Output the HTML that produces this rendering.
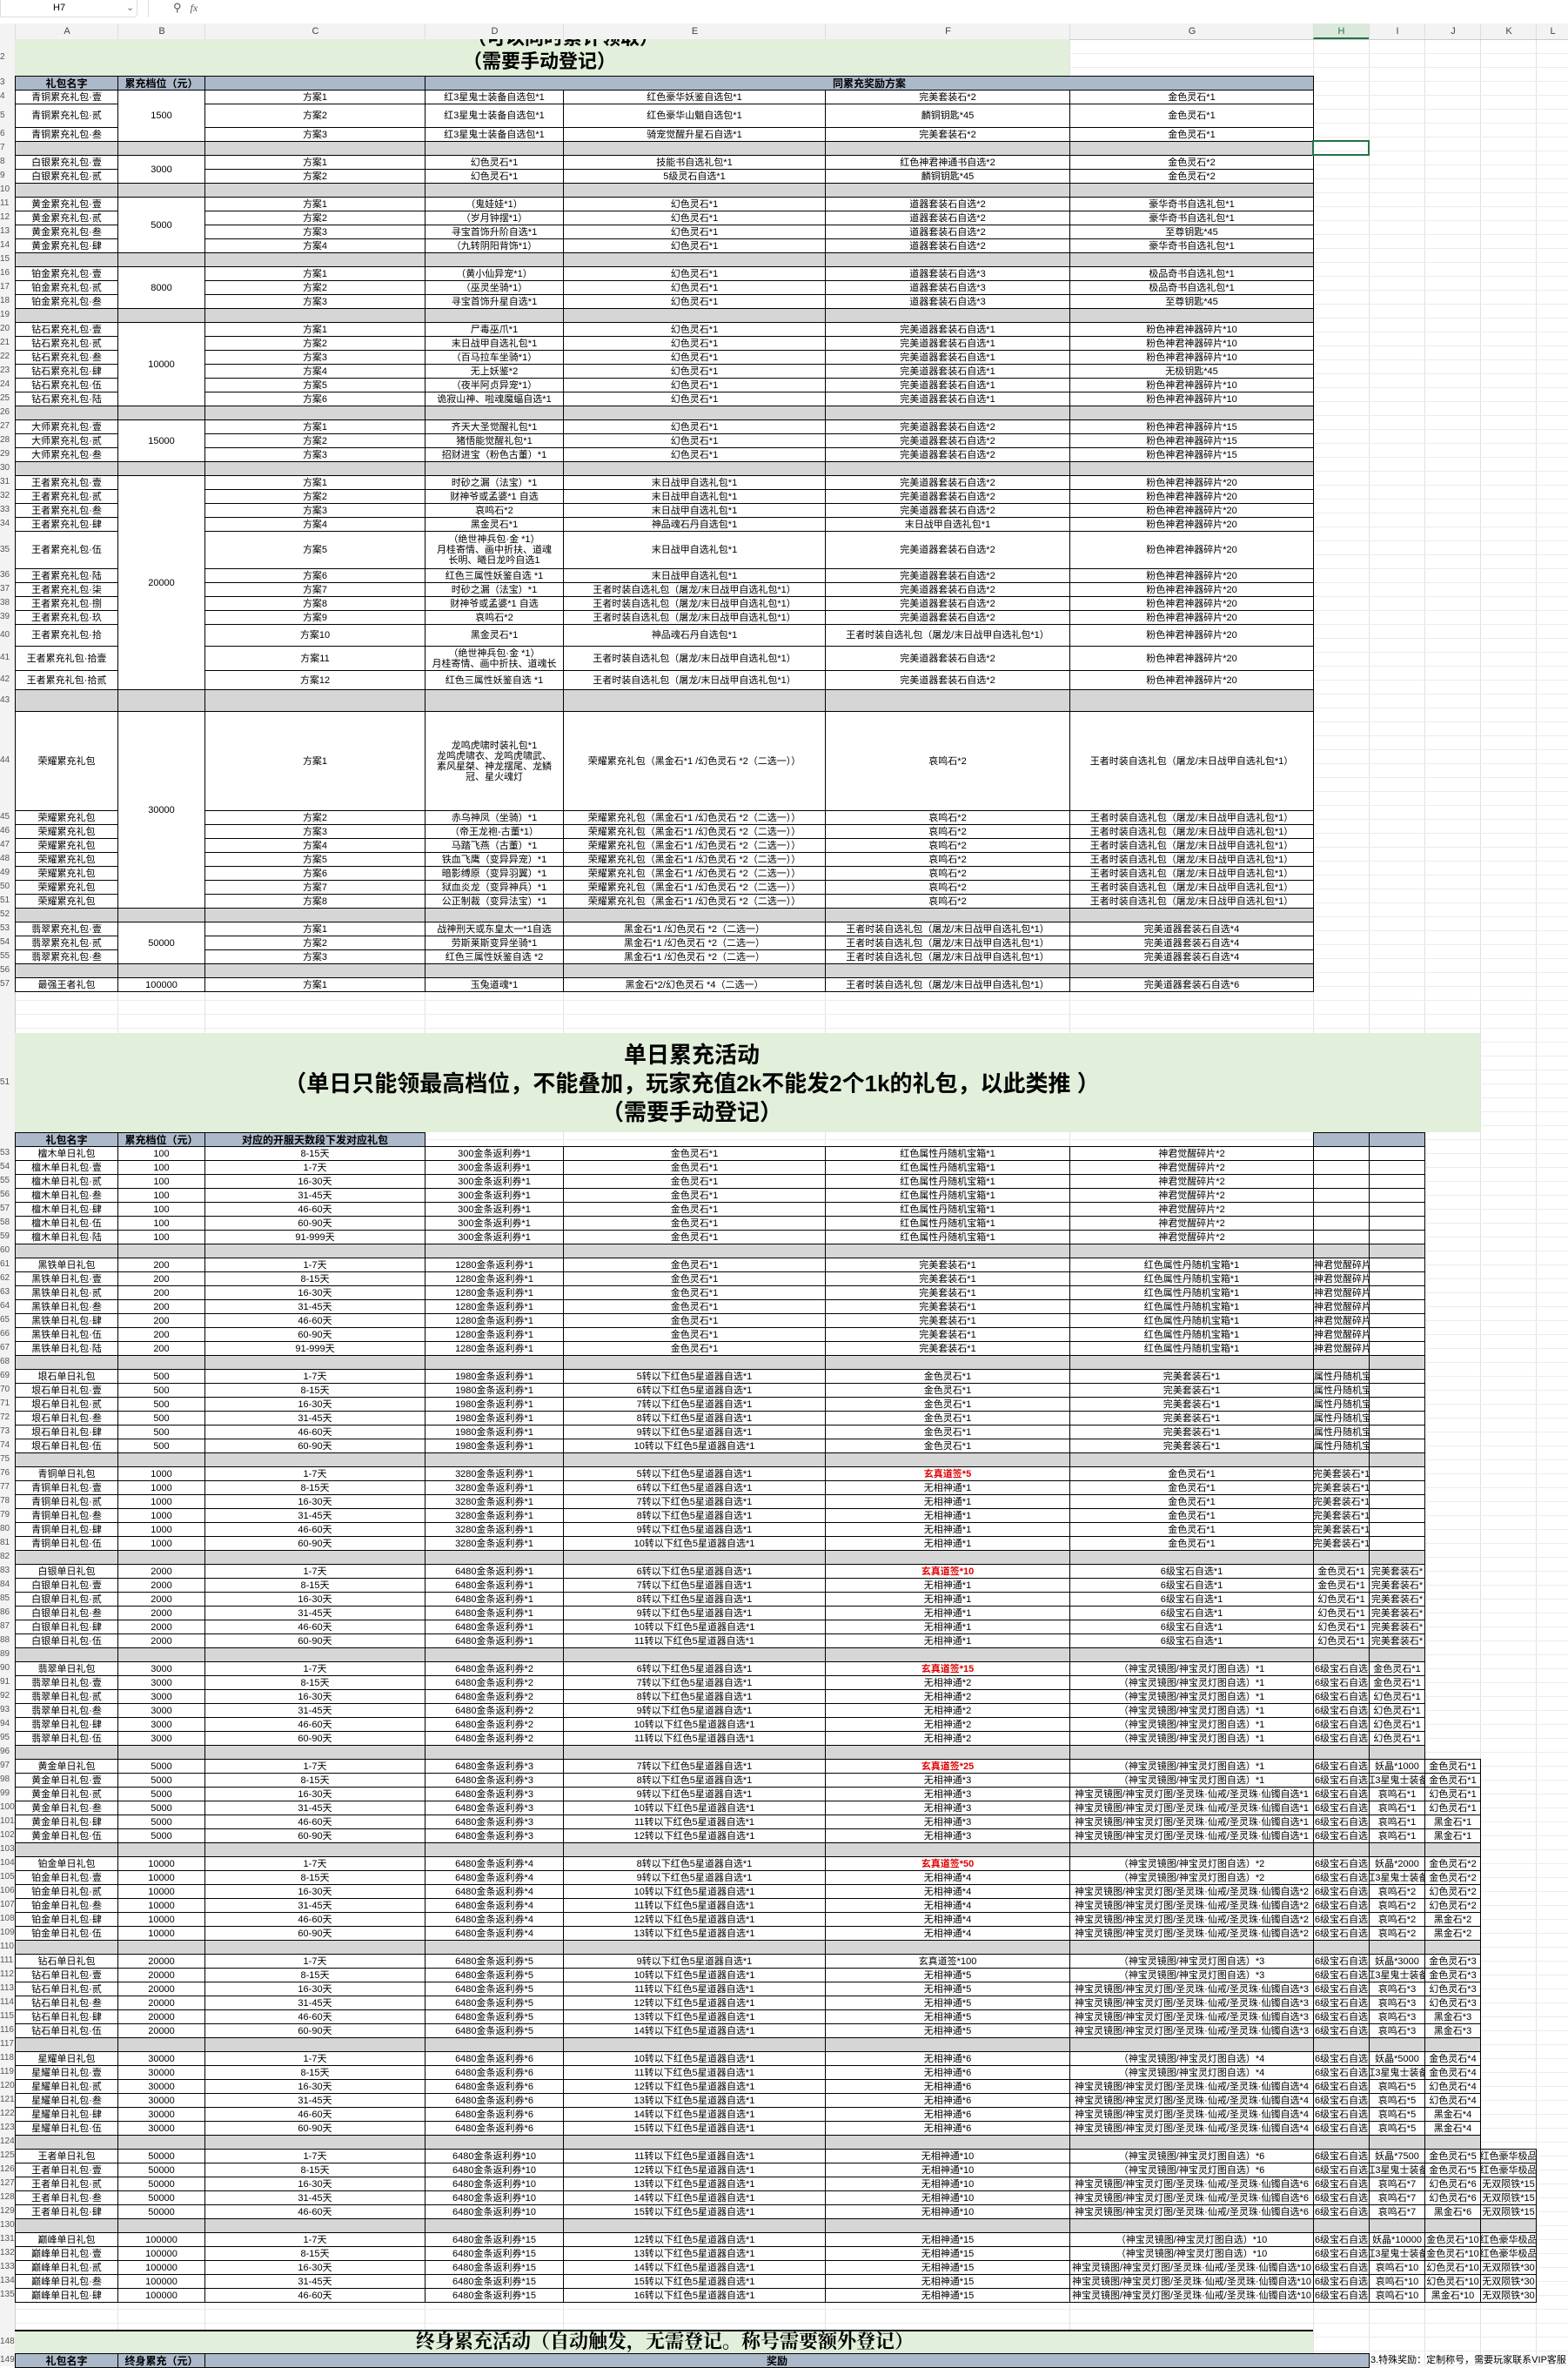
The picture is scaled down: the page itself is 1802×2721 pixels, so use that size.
<!DOCTYPE html>
<html><head><meta charset="utf-8">
<style>
html,body{margin:0;padding:0;background:#fff;}
body{width:1802px;height:2719px;position:relative;overflow:hidden;font-family:"Liberation Sans","Noto Sans CJK SC",sans-serif;color:#000;}
.c{position:absolute;box-sizing:border-box;border:1px solid #000;display:flex;align-items:center;justify-content:center;overflow:hidden;white-space:nowrap;font-size:11px;line-height:12px;text-align:center;background:#fff;}
.g{background:#d6d6d6;}
.hd{background:#acb9ca;font-weight:bold;font-size:12px;}
.ab{position:absolute;}
.vl{position:absolute;top:45px;width:1px;height:2674px;background:#e2e2e2;}
.rn{position:absolute;left:0;width:17px;font-size:10px;color:#555;text-align:left;overflow:hidden;white-space:nowrap;}
.green{position:absolute;background:#e2efda;overflow:hidden;}
</style></head>
<body>
<div id="root"></div>
<script>
(function(){
var X=[17,135,235,488,647,948,1229,1509,1573,1637,1701,1765,1802];
var H='';
function c(x,y,w,h,t,cls,st){H+='<div class="c '+(cls||'')+'" style="left:'+x+'px;top:'+y+'px;width:'+(w+1)+'px;height:'+(h+1)+'px;'+(st||'')+'">'+(t||'')+'</div>';}
function col(i,y,h,t,cls,st){c(X[i],y,X[i+1]-X[i],h,t,cls,st);}
// faint gridlines
for(var i=0;i<X.length;i++){H+='<div class="vl" style="left:'+X[i]+'px"></div>';}
for(var y=45;y<2719;y+=16){H+='<div class="ab" style="left:17px;top:'+y+'px;width:1785px;height:1px;background:#ececec"></div>';}
// formula bar
H+='<div class="ab" style="left:0;top:0;width:1802px;height:27px;background:#fff;border-bottom:1px solid #ddd"></div>';
H+='<div class="ab" style="left:0;top:0;width:158px;height:20px;border:1px solid #ddd;border-top:none;border-radius:0 0 4px 0;font-size:11px;line-height:18px;padding-left:60px;box-sizing:border-box">H7<span style="position:absolute;left:144px;color:#666">&#8964;</span></div>';
H+='<div class="ab" style="left:170px;top:0;width:1632px;height:20px;border-left:1px solid #ddd;font-size:12px;line-height:18px;color:#555;padding-left:28px;box-sizing:border-box"><span style="font-size:13px">&#9906;</span>&nbsp;&nbsp;&nbsp;<i style="font-family:Liberation Serif,serif">fx</i></div>';
// column header
H+='<div class="ab" style="left:0;top:27px;width:1802px;height:18px;background:#f3f3f3;border-bottom:1px solid #ccc"></div>';
H+='<div class="ab" style="left:0;top:45px;width:17px;height:2674px;background:#f3f3f3;border-right:1px solid #ccc"></div>';
var L='ABCDEFGHIJKL';
for(var i=0;i<12;i++){var w=X[i+1]-X[i];H+='<div class="ab" style="left:'+X[i]+'px;top:27px;width:'+w+'px;height:18px;font-size:11px;line-height:18px;text-align:center;color:#444;border-left:1px solid #ddd;'+(i==7?'background:#dbe9dc;color:#217346;border-bottom:2px solid #217346;box-sizing:border-box;':'')+'">'+L[i]+'</div>';}
function rn(y,h,n){H+='<div class="rn" style="top:'+y+'px;height:'+h+'px;line-height:'+h+'px">'+n+'</div>';}

// ===== Section 1 =====
H+='<div class="green" style="left:17px;top:45px;width:1212px;height:42px"><div class="ab" style="left:0;width:1212px;top:-14px;text-align:center;font-size:22px;font-weight:bold;line-height:26px;padding-right:0">'+
'<span style="position:absolute;left:520px">（可以同时累计领取）</span></div>'+
'<div class="ab" style="left:515px;top:12px;font-size:22px;font-weight:bold;line-height:28px">（需要手动登记）</div></div>';
rn(45,42,2);
// header row
col(0,87,16,'礼包名字','hd');col(1,87,16,'累充档位（元）','hd');col(2,87,16,'','hd');
c(X[3],87,X[7]-X[3],16,'同累充奖励方案','hd');
rn(87,16,3);
var P='粉色神君神器碎片*',W='王者时装自选礼包（屠龙/末日战甲自选礼包*1）',R='荣耀累充礼包（黑金石*1 /幻色灵石 *2（二选一））',WM='完美道器套装石自选*';
var S1=[
 {n:'青铜累充礼包·',b:'1500',r:[[16,'壹','红3星鬼士装备自选包*1','红色豪华妖鉴自选包*1','完美套装石*2','金色灵石*1'],[27,'贰','红3星鬼士装备自选包*1','红色豪华山魈自选包*1','麟铜钥匙*45','金色灵石*1'],[16,'叁','红3星鬼士装备自选包*1','骑宠觉醒升星石自选*1','完美套装石*2','金色灵石*1']]},
 {n:'白银累充礼包·',b:'3000',r:[[16,'壹','幻色灵石*1','技能书自选礼包*1','红色神君神通书自选*2','金色灵石*2'],[16,'贰','幻色灵石*1','5级灵石自选*1','麟铜钥匙*45','金色灵石*2']]},
 {n:'黄金累充礼包·',b:'5000',r:[[16,'壹','（鬼娃娃*1）','幻色灵石*1','道器套装石自选*2','豪华奇书自选礼包*1'],[16,'贰','（岁月钟摆*1）','幻色灵石*1','道器套装石自选*2','豪华奇书自选礼包*1'],[16,'叁','寻宝首饰升阶自选*1','幻色灵石*1','道器套装石自选*2','至尊钥匙*45'],[16,'肆','（九转阴阳背饰*1）','幻色灵石*1','道器套装石自选*2','豪华奇书自选礼包*1']]},
 {n:'铂金累充礼包·',b:'8000',r:[[16,'壹','（黄小仙异宠*1）','幻色灵石*1','道器套装石自选*3','极品奇书自选礼包*1'],[16,'贰','（巫灵坐骑*1）','幻色灵石*1','道器套装石自选*3','极品奇书自选礼包*1'],[16,'叁','寻宝首饰升星自选*1','幻色灵石*1','道器套装石自选*3','至尊钥匙*45']]},
 {n:'钻石累充礼包·',b:'10000',r:[[16,'壹','尸毒巫爪*1','幻色灵石*1',WM+'1',P+'10'],[16,'贰','末日战甲自选礼包*1','幻色灵石*1',WM+'1',P+'10'],[16,'叁','（百马拉车坐骑*1）','幻色灵石*1',WM+'1',P+'10'],[16,'肆','无上妖鉴*2','幻色灵石*1',WM+'1','无极钥匙*45'],[16,'伍','（夜半阿贞异宠*1）','幻色灵石*1',WM+'1',P+'10'],[16,'陆','诡寂山神、啦魂魔蝠自选*1','幻色灵石*1',WM+'1',P+'10']]},
 {n:'大师累充礼包·',b:'15000',r:[[16,'壹','齐天大圣觉醒礼包*1','幻色灵石*1',WM+'2',P+'15'],[16,'贰','猪悟能觉醒礼包*1','幻色灵石*1',WM+'2',P+'15'],[16,'叁','招财进宝（粉色古董）*1','幻色灵石*1',WM+'2',P+'15']]},
 {n:'王者累充礼包·',b:'20000',r:[[16,'壹','时砂之漏（法宝）*1','末日战甲自选礼包*1',WM+'2',P+'20'],[16,'贰','财神爷或孟婆*1 自选','末日战甲自选礼包*1',WM+'2',P+'20'],[16,'叁','哀鸣石*2','末日战甲自选礼包*1',WM+'2',P+'20'],[16,'肆','黑金灵石*1','神品魂石丹自选包*1','末日战甲自选礼包*1',P+'20'],
  [43,'伍','（绝世神兵包·金 *1）<br>月桂寄情、画中折扶、道魂<br>长明、曦日龙吟自选1','末日战甲自选礼包*1',WM+'2',P+'20'],[16,'陆','红色三属性妖鉴自选 *1','末日战甲自选礼包*1',WM+'2',P+'20'],[16,'柒','时砂之漏（法宝）*1',W,WM+'2',P+'20'],[16,'捌','财神爷或孟婆*1 自选',W,WM+'2',P+'20'],[16,'玖','哀鸣石*2',W,WM+'2',P+'20'],
  [25,'拾','黑金灵石*1','神品魂石丹自选包*1',W,P+'20'],[28,'拾壹','（绝世神兵包·金 *1）<br>月桂寄情、画中折扶、道魂长',W,WM+'2',P+'20'],[22,'拾贰','红色三属性妖鉴自选 *1',W,WM+'2',P+'20']],g:25},
 {n:'荣耀累充礼包',b:'30000',r:[[114,'','龙鸣虎啸时装礼包*1<br>龙鸣虎啸衣、龙鸣虎啸武、<br>素风星桀、神龙摆尾、龙鳞<br>冠、星火魂灯',R,'哀鸣石*2',W],[16,'','赤乌神凤（坐骑）*1',R,'哀鸣石*2',W],[16,'','（帝王龙袍-古董*1）',R,'哀鸣石*2',W],[16,'','马踏飞燕（古董）*1',R,'哀鸣石*2',W],[16,'','铁血飞鹰（变异异宠）*1',R,'哀鸣石*2',W],[16,'','暗影缚原（变异羽翼）*1',R,'哀鸣石*2',W],[16,'','狱血炎龙（变异神兵）*1',R,'哀鸣石*2',W],[16,'','公正制裁（变异法宝）*1',R,'哀鸣石*2',W]]},
 {n:'翡翠累充礼包·',b:'50000',r:[[16,'壹','战神刑天或东皇太一*1自选','黑金石*1 /幻色灵石 *2（二选一）',W,WM+'4'],[16,'贰','劳斯莱斯变异坐骑*1','黑金石*1 /幻色灵石 *2（二选一）',W,WM+'4'],[16,'叁','红色三属性妖鉴自选 *2','黑金石*1 /幻色灵石 *2（二选一）',W,WM+'4']]},
 {n:'最强王者礼包',b:'100000',r:[[16,'','玉兔道魂*1','黑金石*2/幻色灵石 *4（二选一）',W,WM+'6']]}
];
var y=103,rowNo=4;
S1.forEach(function(gp,gi){
  var y0=y;
  gp.r.forEach(function(r,ri){
    var h=r[0],ml=r[2].indexOf('<br>')>=0?'white-space:normal;':'';
    col(0,y,h,gp.n+r[1]);col(2,y,h,'方案'+(ri+1));col(3,y,h,r[2],'',ml);col(4,y,h,r[3]);col(5,y,h,r[4]);col(6,y,h,r[5]);
    rn(y,h,rowNo++);y+=h;
  });
  col(1,y0,y-y0,gp.b);
  if(gi<S1.length-1){var gh=gp.g||16;for(var k=0;k<7;k++)col(k,y,gh,'','g');rn(y,gh,rowNo++);y+=gh;}
});
// selected H7
H+='<div class="ab" style="left:1508px;top:161px;width:66px;height:18px;border:2px solid #217346;box-sizing:border-box"></div>';

// ===== Section 2 =====
H+='<div class="green" style="left:17px;top:1187px;width:1684px;height:114px"></div>';
H+='<div class="ab" style="left:0;width:1590px;top:1196px;text-align:center;font-size:26px;font-weight:bold;line-height:33px">单日累充活动<br>（单日只能领最高档位，不能叠加，玩家充值2k不能发2个1k的礼包，以此类推 ）<br>（需要手动登记）</div>';
col(0,1301,16,'礼包名字','hd');col(1,1301,16,'累充档位（元）','hd');col(2,1301,16,'对应的开服天数段下发对应礼包','hd');
col(7,1301,16,'','hd');col(8,1301,16,'','hd');
var D7=['8-15天','1-7天','16-30天','31-45天','46-60天','60-90天','91-999天'],D6=['1-7天','8-15天','16-30天','31-45天','46-60天','60-90天','91-999天'];
var SUF=['','·壹','·贰','·叁','·肆','·伍','·陆'];
var LJ='（神宝灵镜图/神宝灵灯图自选）*',LL='神宝灵镜图/神宝灵灯图/圣灵珠·仙戒/圣灵珠·仙镯自选*';
function red(t){return '<b style="color:#e00000">'+t+'</b>';}
var S2=[
 {n:'檀木',v:'100',k:7,d:D7,e:9,f:function(i){return ['300金条返利券*1','金色灵石*1','红色属性丹随机宝箱*1','神君觉醒碎片*2','',''];}},
 {n:'黑铁',v:'200',k:7,d:D6,e:9,f:function(i){return ['1280金条返利券*1','金色灵石*1','完美套装石*1','红色属性丹随机宝箱*1','神君觉醒碎片*2',''];}},
 {n:'垠石',v:'500',k:6,d:D6,e:9,f:function(i){return ['1980金条返利券*1',(5+i)+'转以下红色5星道器自选*1','金色灵石*1','完美套装石*1','属性丹随机宝箱*1',''];}},
 {n:'青铜',v:'1000',k:6,d:D6,e:9,f:function(i){return ['3280金条返利券*1',(5+i)+'转以下红色5星道器自选*1',i?'无相神通*1':red('玄真道签*5'),'金色灵石*1','完美套装石*1',''];}},
 {n:'白银',v:'2000',k:6,d:D6,e:9,f:function(i){return ['6480金条返利券*1',(6+i)+'转以下红色5星道器自选*1',i?'无相神通*1':red('玄真道签*10'),'6级宝石自选*1',i<2?'金色灵石*1':'幻色灵石*1','完美套装石*'];}},
 {n:'翡翠',v:'3000',k:6,d:D6,e:9,f:function(i){return ['6480金条返利券*2',(6+i)+'转以下红色5星道器自选*1',i?'无相神通*2':red('玄真道签*15'),LJ+'1','6级宝石自选',i<2?'金色灵石*1':'幻色灵石*1'];}},
 {n:'黄金',v:'5000',k:6,d:D6,e:10,f:function(i){return ['6480金条返利券*3',(7+i)+'转以下红色5星道器自选*1',i?'无相神通*3':red('玄真道签*25'),i<2?LJ+'1':LL+'1','6级宝石自选',i==0?'妖晶*1000':i==1?'红3星鬼士装备':'哀鸣石*1',i<2?'金色灵石*1':i<4?'幻色灵石*1':'黑金石*1'];}},
 {n:'铂金',v:'10000',k:6,d:D6,e:10,f:function(i){return ['6480金条返利券*4',(8+i)+'转以下红色5星道器自选*1',i?'无相神通*4':red('玄真道签*50'),i<2?LJ+'2':LL+'2','6级宝石自选',i==0?'妖晶*2000':i==1?'红3星鬼士装备':'哀鸣石*2',i<2?'金色灵石*2':i<4?'幻色灵石*2':'黑金石*2'];}},
 {n:'钻石',v:'20000',k:6,d:D6,e:10,f:function(i){return ['6480金条返利券*5',(9+i)+'转以下红色5星道器自选*1',i?'无相神通*5':'玄真道签*100',i<2?LJ+'3':LL+'3','6级宝石自选',i==0?'妖晶*3000':i==1?'红3星鬼士装备':'哀鸣石*3',i<2?'金色灵石*3':i<4?'幻色灵石*3':'黑金石*3'];}},
 {n:'星耀',v:'30000',k:6,d:D6,e:10,f:function(i){return ['6480金条返利券*6',(10+i)+'转以下红色5星道器自选*1','无相神通*6',i<2?LJ+'4':LL+'4','6级宝石自选',i==0?'妖晶*5000':i==1?'红3星鬼士装备':'哀鸣石*5',i<2?'金色灵石*4':i<4?'幻色灵石*4':'黑金石*4'];}},
 {n:'王者',v:'50000',k:5,d:D6,e:11,f:function(i){return ['6480金条返利券*10',(11+i)+'转以下红色5星道器自选*1','无相神通*10',i<2?LJ+'6':LL+'6','6级宝石自选',i==0?'妖晶*7500':i==1?'红3星鬼士装备':'哀鸣石*7',i<2?'金色灵石*5':i<4?'幻色灵石*6':'黑金石*6',i<2?'红色豪华极品':'无双陨铁*15'];}},
 {n:'巅峰',v:'100000',k:5,d:D6,e:11,f:function(i){return ['6480金条返利券*15',(12+i)+'转以下红色5星道器自选*1','无相神通*15',i<2?LJ+'10':LL+'10','6级宝石自选',i==0?'妖晶*10000':i==1?'红3星鬼士装备':'哀鸣石*10',i<2?'金色灵石*10':i<4?'幻色灵石*10':'黑金石*10',i<2?'红色豪华极品':'无双陨铁*30'];}}
];
y=1317;rowNo=53;
S2.forEach(function(gp,gi){
  for(var i=0;i<gp.k;i++){
    col(0,y,16,gp.n+'单日礼包'+SUF[i]);col(1,y,16,gp.v);col(2,y,16,gp.d[i]);
    var v=gp.f(i);
    for(var j=0;j<v.length&&3+j<gp.e;j++){col(3+j,y,16,v[j],'',(3+j>=7&&j>=4&&gi<3)?'justify-content:flex-start;':'');}
    rn(y,16,rowNo++);y+=16;
  }
  if(gi<S2.length-1){for(var k=0;k<gp.e;k++)col(k,y,16,'','g');rn(y,16,rowNo++);y+=16;}
});
// ===== Section 3 =====
H+='<div class="ab" style="left:17px;top:2677px;width:1492px;height:27px;background:#e2efda;border-top:2px solid #000;box-sizing:border-box"></div>';
H+='<div class="ab" style="left:478px;top:2677px;font-family:\'Liberation Serif\',\'Noto Serif CJK SC\',serif;font-size:22px;font-weight:bold;line-height:28px;white-space:nowrap">终身累充活动（自动触发，无需登记。称号需要额外登记）</div>';
col(0,2704,16,'礼包名字','hd');col(1,2704,16,'终身累充（元）','hd');
c(X[2],2704,X[8]-X[2],16,'奖励','hd','justify-content:flex-start;padding-left:645px;');
H+='<div class="ab" style="left:1575px;top:2704px;font-size:11px;line-height:16px;white-space:nowrap">3.特殊奖励：定制称号，需要玩家联系VIP客服</div>';
rn(1187,114,51);rn(2677,27,148);rn(2704,16,149);
document.getElementById('root').innerHTML=H;
})();
</script>
</body></html>
